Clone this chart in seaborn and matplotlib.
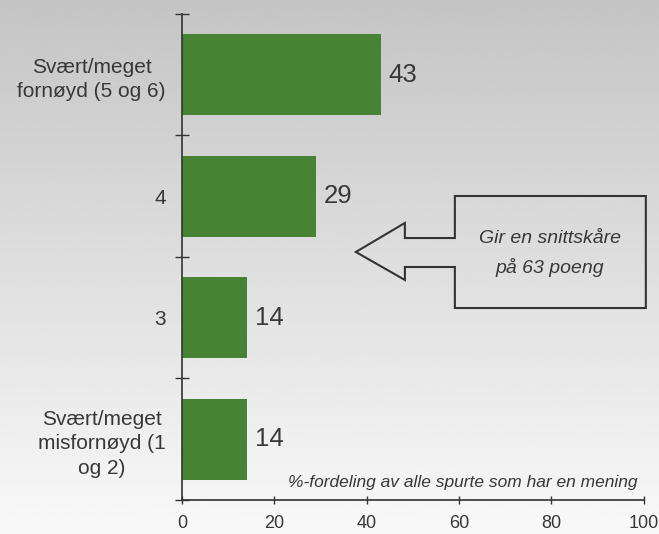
import numpy as np
import pandas as pd
import seaborn as sns
import matplotlib.pyplot as plt
from matplotlib.patches import Polygon

categories = [
    'Svært/meget\nfornøyd (5 og 6)',
    '4',
    '3',
    'Svært/meget\nmisfornøyd (1\nog 2)',
]
values = [43, 29, 14, 14]
x_ticks = [0, 20, 40, 60, 80, 100]
callout_text = 'Gir en snittskåre\npå 63 poeng'
footnote = '%-fordeling av alle spurte som har en mening'

sns.set_style('white')
plt.rcParams['font.family'] = ['Liberation Sans', 'DejaVu Sans']
text_col = '#383838'
line_col = '#333333'

fig = plt.figure(figsize=(6.59, 5.34), dpi=100)

# gradient background
bg = fig.add_axes([0, 0, 1, 1], zorder=-10)
grad = np.linspace(0.77, 0.975, 256).reshape(-1, 1)
bg.imshow(grad, aspect='auto', cmap='gray', vmin=0, vmax=1,
          extent=[0, 1, 1, 0])
bg.set_axis_off()

ax = fig.add_axes([0.276, 0.0637, 0.701, 0.9101])
ax.set_facecolor('none')

df = pd.DataFrame({'cat': categories, 'val': values})
sns.barplot(data=df, x='val', y='cat', color='#468335', saturation=1,
            width=0.67, linewidth=0, edgecolor='none', ax=ax)

ax.bar_label(ax.containers[0], padding=6, fontsize=18.5, color=text_col)

ax.set_xlim(0, 100)
ax.set_ylim(len(categories) - 0.5, -0.5)
ax.set_xticks(x_ticks)
ax.set_xlabel('')
ax.set_ylabel('')

# y ticks at category boundaries
ax.set_yticks(np.arange(len(categories) + 1) - 0.5, minor=True)
ax.tick_params(axis='y', which='major', left=True, length=0, pad=11.5,
               labelsize=15, labelcolor=text_col)
ax.tick_params(axis='y', which='minor', left=True, length=9.4, width=1,
               direction='inout', color=line_col)
ax.tick_params(axis='x', which='major', bottom=True, length=5.8, width=1,
               direction='inout', color=line_col, pad=8,
               labelsize=13, labelcolor=text_col)
for lbl in ax.get_yticklabels():
    lbl.set_multialignment('center')
    lbl.set_linespacing(1.35)

sns.despine(ax=ax)
for s in ['left', 'bottom']:
    ax.spines[s].set_color(line_col)
    ax.spines[s].set_linewidth(1.2)

# callout arrow pointing left
pts = [(0.3766, 0.5103), (0.4827, 0.570), (0.4827, 0.539), (0.5909, 0.539),
       (0.5909, 0.6255), (1.0043, 0.6255), (1.0043, 0.395), (0.5909, 0.395),
       (0.5909, 0.4794), (0.4827, 0.4794), (0.4827, 0.4527)]
ax.add_patch(Polygon(pts, closed=True, transform=ax.transAxes, fill=False,
                     edgecolor=line_col, linewidth=1.5, clip_on=False,
                     joinstyle='miter'))
ax.text(0.797, 0.507, callout_text, transform=ax.transAxes, ha='center',
        va='center', style='italic', fontsize=14, color=text_col,
        linespacing=1.75)

ax.text(0.987, 0.037, footnote, transform=ax.transAxes, ha='right',
        va='center', style='italic', fontsize=12.5, color=text_col)

fig.savefig('out.png', dpi=100)
